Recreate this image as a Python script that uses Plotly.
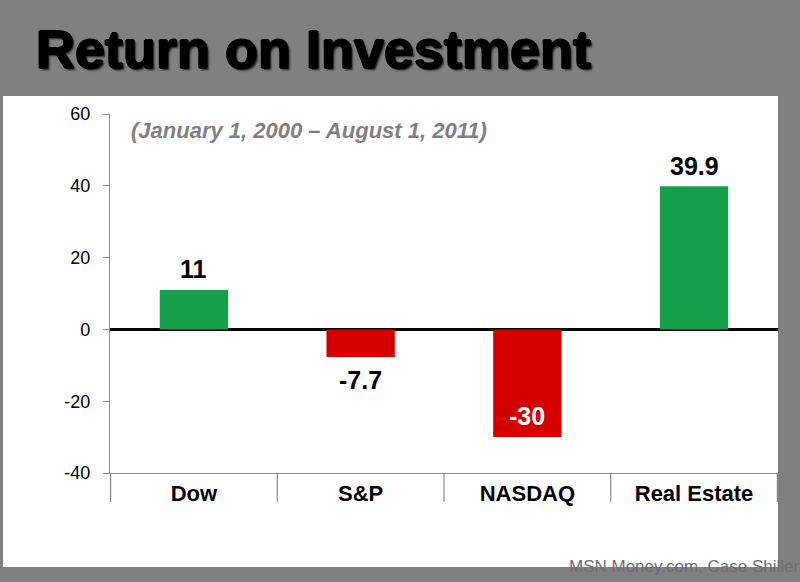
import plotly.graph_objects as go

categories = ["Dow", "S&P", "NASDAQ", "Real Estate"]
values = [11, -7.7, -30, 39.9]
labels = ["11", "-7.7", "-30", "39.9"]
bar_colors = ["#17a04b", "#d40000", "#d40000", "#17a04b"]
label_shift = [21, -23, 21, 20]
text_colors = ["black", "black", "white", "black"]
y_ticks = [-40, -20, 0, 20, 40, 60]
y_tick_text = ["-40", "-20", "0", "20", "40", "60"]

W, H = 800, 582
L, R, T, B = 110, 22, 114, 109
pw, ph = W - L - R, H - T - B

def px_x(x):
    return (x - L) / pw

def px_y(y):
    return (H - B - y) / ph

fig = go.Figure()
fig.add_trace(go.Bar(
    x=categories, y=values, width=0.41,
    marker=dict(color=bar_colors, line=dict(width=0)),
    hoverinfo="x+y",
))

shapes = [
    dict(type="rect", xref="paper", yref="paper", layer="below",
         x0=px_x(3), x1=px_x(778), y0=px_y(567), y1=px_y(96),
         fillcolor="white", line=dict(width=0)),
]
for i in range(len(categories) + 1):
    shapes.append(dict(type="line", xref="x", yref="paper",
                       x0=i - 0.5, x1=i - 0.5, y0=0, y1=px_y(502),
                       line=dict(color="#8c8c8c", width=1.2)))

annotations = [
    dict(text="<b><i>(January 1, 2000 – August 1, 2011)</i></b>", xref="paper", yref="paper",
         x=px_x(129), y=px_y(131), xanchor="left", yanchor="middle", showarrow=False,
         font=dict(family="Liberation Sans", size=22, color="#808080")),
    dict(text="MSN Money.com, Case Shiller", xref="paper", yref="paper",
         x=px_x(567), y=px_y(566), xanchor="left", yanchor="middle", showarrow=False,
         font=dict(family="Liberation Sans", size=17, color="#6e6e6e")),
]
for c, v, t, s, col in zip(categories, values, labels, label_shift, text_colors):
    annotations.append(dict(x=c, y=v, text="<b>" + t + "</b>", showarrow=False,
                            xanchor="center", yanchor="middle", yshift=s,
                            font=dict(family="Liberation Sans", size=25, color=col)))

fig.update_layout(
    width=W, height=H,
    margin=dict(l=L, r=R, t=T, b=B),
    paper_bgcolor="#808080", plot_bgcolor="white",
    showlegend=False,
    title=dict(text="<b>Return on Investment</b>", x=36 / W, xanchor="left",
               y=1 - 49 / H, yanchor="middle",
               font=dict(family="Liberation Sans", size=54, color="black",
                         shadow="1px 0 0 #000, -1px 0 0 #000, 0 1px 0 #000, 0 -1px 0 #000, 2px 2px 2px #222")),
    shapes=shapes,
    annotations=annotations,
)
fig.update_yaxes(range=[-40, 60], tickvals=y_ticks, ticktext=y_tick_text, showgrid=False,
                 showline=True, linecolor="#8c8c8c", linewidth=1.2,
                 ticks="outside", ticklen=6, tickcolor="#8c8c8c",
                 ticklabelstandoff=9,
                 tickfont=dict(family="Liberation Sans", size=18, color="black"),
                 zeroline=True, zerolinecolor="black", zerolinewidth=3)
fig.update_xaxes(showgrid=False, showline=True, linecolor="#8c8c8c", linewidth=1.2,
                 ticks="", ticklabelstandoff=0,
                 tickfont=dict(family="Liberation Sans", size=22, color="black", weight="bold"))

fig.write_html("out.html", config={"displayModeBar": False},
               post_script="document.body.style.margin='0';document.body.style.overflow='hidden';")
